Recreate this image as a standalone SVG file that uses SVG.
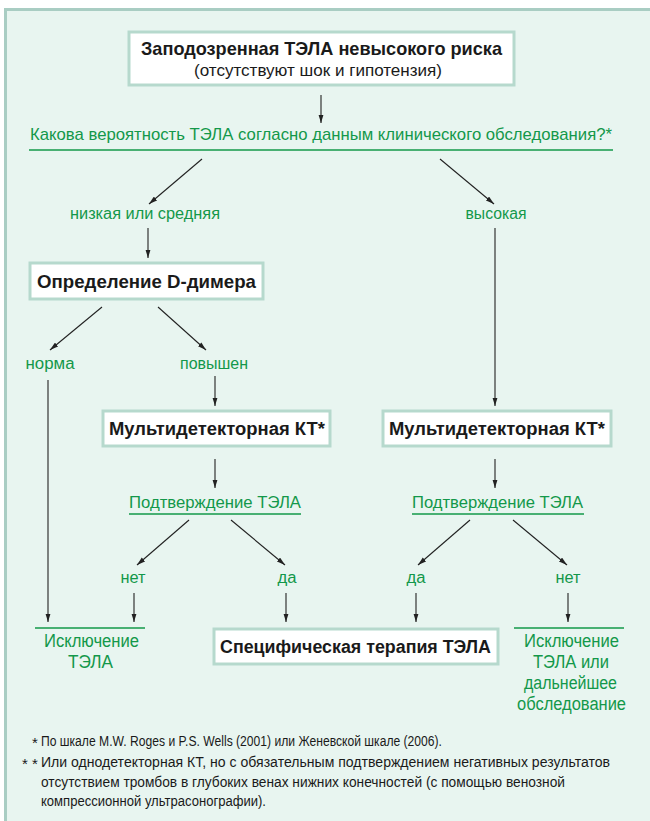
<svg xmlns="http://www.w3.org/2000/svg" width="650" height="821" viewBox="0 0 650 821">
<style>
.box{fill:#ffffff;stroke:#b6d9cd;stroke-width:3}
.bt{font-family:"Liberation Sans",Arial,sans-serif;font-weight:bold;font-size:18px;fill:#1a1a1a;text-anchor:middle}
.nt{font-family:"Liberation Sans",Arial,sans-serif;font-size:16px;fill:#1a1a1a;text-anchor:middle}
.g{font-family:"Liberation Sans",Arial,sans-serif;font-size:16px;fill:#13984a;text-anchor:middle}
.gl{font-family:"Liberation Sans",Arial,sans-serif;font-size:18px;fill:#13984a;text-anchor:middle}
.ul{stroke:#13984a;stroke-width:1.5}
.fn{font-family:"Liberation Sans",Arial,sans-serif;font-size:14px;fill:#1a1a1a}
.c line{stroke:#222;stroke-width:1.1;marker-end:url(#ah)}
</style>
<defs>
<marker id="ah" viewBox="0 0 10 6" refX="10" refY="3" markerWidth="8.5" markerHeight="5.5" orient="auto" markerUnits="userSpaceOnUse">
<path d="M0,0 L10,3 L0,6 z" fill="#222"/>
</marker>
</defs>
<rect x="5.5" y="9.5" width="660" height="830" fill="#e8f5f0" stroke="#a9cdc3" stroke-width="3"/>

<g id="start">
<rect class="box" x="129" y="32" width="385" height="53"/>
<text class="bt" x="321.5" y="55" style="font-size:19px" textLength="361" lengthAdjust="spacingAndGlyphs">Заподозренная ТЭЛА невысокого риска</text>
<text class="nt" x="318" y="76" textLength="248" lengthAdjust="spacingAndGlyphs">(отсутствуют шок и гипотензия)</text>
</g>

<g id="question">
<text class="g" x="321" y="140" style="font-size:17px" textLength="582" lengthAdjust="spacingAndGlyphs">Какова вероятность ТЭЛА согласно данным клинического обследования?*</text>
<line class="ul" x1="29" y1="150" x2="613" y2="150"/>
</g>

<g id="low"><text class="g" x="145" y="219" textLength="150" lengthAdjust="spacingAndGlyphs">низкая или средняя</text></g>
<g id="high"><text class="g" x="496" y="219" textLength="61" lengthAdjust="spacingAndGlyphs">высокая</text></g>

<g id="ddimer">
<rect class="box" x="30" y="263" width="233" height="36"/>
<text class="bt" x="146.5" y="288" style="font-size:19px" textLength="219" lengthAdjust="spacingAndGlyphs">Определение D-димера</text>
</g>

<g id="norm"><text class="g" x="50" y="369" textLength="49" lengthAdjust="spacingAndGlyphs">норма</text></g>
<g id="raised"><text class="g" x="214" y="369" textLength="68" lengthAdjust="spacingAndGlyphs">повышен</text></g>

<g id="ct-left">
<rect class="box" x="103" y="411" width="227" height="35"/>
<text class="bt" x="217" y="435" textLength="216" lengthAdjust="spacingAndGlyphs">Мультидетекторная КТ*</text>
</g>
<g id="ct-right">
<rect class="box" x="383" y="411" width="228" height="35"/>
<text class="bt" x="497" y="435" textLength="216" lengthAdjust="spacingAndGlyphs">Мультидетекторная КТ*</text>
</g>

<g id="confirm-left">
<text class="g" x="215" y="508" style="font-size:17px" textLength="172" lengthAdjust="spacingAndGlyphs">Подтверждение ТЭЛА</text>
<line class="ul" x1="129" y1="514" x2="301" y2="514"/>
</g>
<g id="confirm-right">
<text class="g" x="497.5" y="508" style="font-size:17px" textLength="171" lengthAdjust="spacingAndGlyphs">Подтверждение ТЭЛА</text>
<line class="ul" x1="412" y1="514" x2="584" y2="514"/>
</g>

<g id="no-left"><text class="g" x="133" y="583" textLength="25" lengthAdjust="spacingAndGlyphs">нет</text></g>
<g id="yes-left"><text class="g" x="287" y="583" textLength="19" lengthAdjust="spacingAndGlyphs">да</text></g>
<g id="yes-right"><text class="g" x="416" y="583" textLength="19" lengthAdjust="spacingAndGlyphs">да</text></g>
<g id="no-right"><text class="g" x="568" y="583" textLength="25" lengthAdjust="spacingAndGlyphs">нет</text></g>

<g id="exclude-left">
<line class="ul" x1="35" y1="628" x2="145" y2="628"/>
<text class="gl" x="91.5" y="647" textLength="95" lengthAdjust="spacingAndGlyphs">Исключение</text>
<text class="gl" x="90.5" y="668" textLength="45" lengthAdjust="spacingAndGlyphs">ТЭЛА</text>
</g>

<g id="therapy">
<rect class="box" x="214" y="629" width="284" height="35"/>
<text class="bt" x="355.5" y="653" textLength="271" lengthAdjust="spacingAndGlyphs">Специфическая терапия ТЭЛА</text>
</g>

<g id="exclude-right">
<line class="ul" x1="514" y1="628" x2="624" y2="628"/>
<text class="gl" x="571.5" y="647" textLength="95" lengthAdjust="spacingAndGlyphs">Исключение</text>
<text class="gl" x="571" y="668" textLength="76" lengthAdjust="spacingAndGlyphs">ТЭЛА или</text>
<text class="gl" x="570.5" y="689" textLength="93" lengthAdjust="spacingAndGlyphs">дальнейшее</text>
<text class="gl" x="571.5" y="710" textLength="109" lengthAdjust="spacingAndGlyphs">обследование</text>
</g>

<g id="connectors" class="c">
<line x1="321" y1="95" x2="321" y2="123"/>
<line x1="202" y1="159" x2="149" y2="204"/>
<line x1="440" y1="159" x2="494" y2="204"/>
<line x1="148" y1="228" x2="148" y2="258"/>
<line x1="495" y1="228" x2="495" y2="406"/>
<line x1="102" y1="307" x2="50" y2="350"/>
<line x1="158" y1="307" x2="206" y2="350"/>
<line x1="48" y1="380" x2="48" y2="622"/>
<line x1="215" y1="376" x2="215" y2="406"/>
<line x1="215" y1="459" x2="215" y2="488"/>
<line x1="495" y1="459" x2="495" y2="488"/>
<line x1="189" y1="520" x2="137" y2="565"/>
<line x1="231" y1="520" x2="285" y2="565"/>
<line x1="470" y1="520" x2="418" y2="565"/>
<line x1="513" y1="520" x2="567" y2="565"/>
<line x1="134" y1="593" x2="134" y2="622"/>
<line x1="286" y1="593" x2="286" y2="622"/>
<line x1="416" y1="593" x2="416" y2="622"/>
<line x1="568" y1="593" x2="568" y2="622"/>
</g>

<g id="footnotes">
<text class="fn" x="32" y="748" style="font-size:15px">*</text>
<text class="fn" x="41" y="746" textLength="401" lengthAdjust="spacingAndGlyphs">По шкале M.W. Roges и P.S. Wells (2001) или Женевской шкале (2006).</text>
<text class="fn" x="22" y="769" style="font-size:15px">* *</text>
<text class="fn" x="41" y="767" textLength="569" lengthAdjust="spacingAndGlyphs">Или однодетекторная КТ, но с обязательным подтверждением негативных результатов</text>
<text class="fn" x="41" y="787" textLength="524" lengthAdjust="spacingAndGlyphs">отсутствием тромбов в глубоких венах нижних конечностей (с помощью венозной</text>
<text class="fn" x="41" y="806" textLength="225" lengthAdjust="spacingAndGlyphs">компрессионной ультрасонографии).</text>
</g>
</svg>
